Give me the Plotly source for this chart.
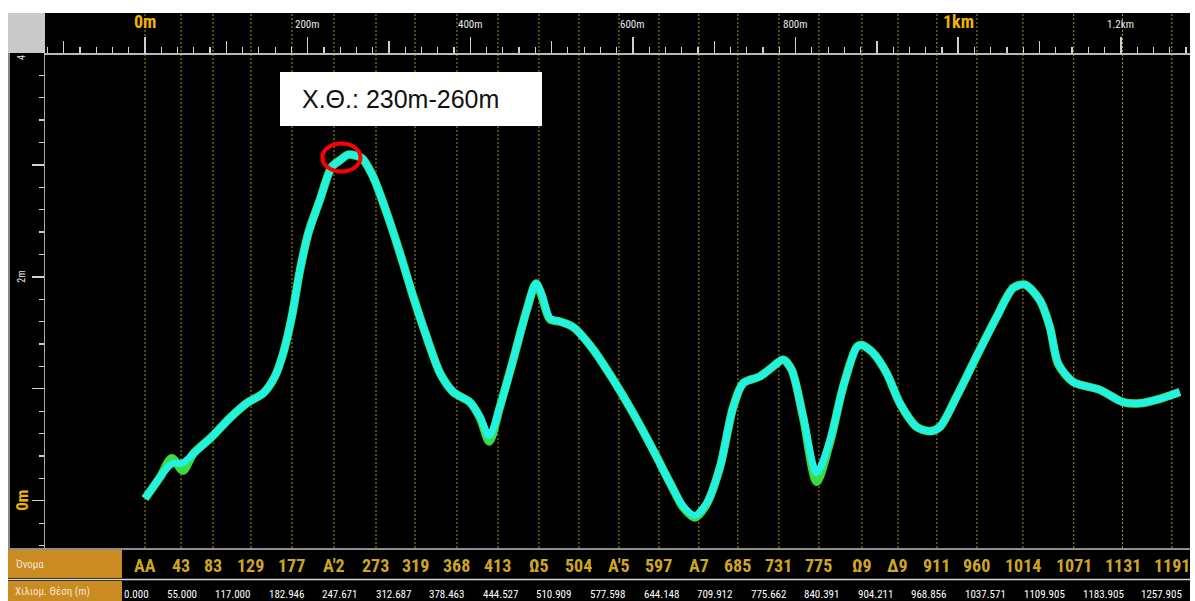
import numpy as np
import plotly.graph_objects as go

# ---- longitudinal profile: chainage (m) and level (m) ----
chainage_m = [0, 18.4, 32.8, 46.7, 59.4, 82.0, 104.5, 125.0, 145.4, 159.8, 170.0, 180.4,
              190.6, 200.8, 215.2, 229.5, 239.8, 250.0, 266.4, 280.7, 297.2, 313.5, 329.9,
              346.4, 362.7, 379.1, 399.6, 411.9, 423.3, 436.5, 452.8, 469.3, 480.7, 487.7,
              498.0, 510.2, 526.6, 551.2, 575.8, 600.4, 625.0, 645.5, 661.8, 676.2, 690.6,
              707.0, 723.4, 735.6, 756.2, 772.5, 784.8, 795.1, 809.4, 825.9, 842.2, 858.6,
              875.0, 881.2, 895.4, 911.9, 928.3, 948.8, 965.2, 977.5, 998.0, 1022.6, 1047.2,
              1067.6, 1082.0, 1100.4, 1112.7, 1122.9, 1141.4, 1174.2, 1202.8, 1223.4, 1248.0,
              1272.5]
level_main = [0.02, 0.21, 0.33, 0.34, 0.42, 0.57, 0.74, 0.87, 0.96, 1.11, 1.32, 1.64,
              2.06, 2.39, 2.69, 2.98, 3.04, 3.09, 3.06, 2.89, 2.57, 2.21, 1.82,
              1.46, 1.14, 0.97, 0.88, 0.75, 0.58, 0.84, 1.26, 1.70, 1.94, 1.85,
              1.63, 1.60, 1.55, 1.35, 1.08, 0.78, 0.45, 0.16, -0.05, -0.13, -0.02,
              0.30, 0.84, 1.05, 1.11, 1.20, 1.26, 1.17, 0.75, 0.25, 0.54, 1.02,
              1.37, 1.39, 1.32, 1.14, 0.87, 0.66, 0.62, 0.66, 0.93, 1.29, 1.64,
              1.90, 1.93, 1.79, 1.55, 1.23, 1.06, 0.99, 0.88, 0.87, 0.91,
              0.97]
level_second = [0.02, 0.21, 0.38, 0.27, 0.42, 0.57, 0.74, 0.87, 0.96, 1.11, 1.32, 1.64,
                2.06, 2.39, 2.69, 2.98, 3.04, 3.09, 3.06, 2.89, 2.57, 2.21, 1.82,
                1.46, 1.14, 0.97, 0.88, 0.74, 0.53, 0.84, 1.26, 1.70, 1.94, 1.83,
                1.62, 1.60, 1.55, 1.35, 1.08, 0.78, 0.45, 0.16, -0.06, -0.15, -0.03,
                0.30, 0.84, 1.05, 1.11, 1.20, 1.26, 1.17, 0.74, 0.17, 0.52, 1.02,
                1.37, 1.39, 1.32, 1.14, 0.87, 0.66, 0.62, 0.66, 0.93, 1.29, 1.64,
                1.90, 1.93, 1.79, 1.55, 1.22, 1.06, 0.99, 0.88, 0.87, 0.91,
                0.97]

# ---- stations ----
station_pos_m = [0, 44.3, 83.6, 130.3, 180.7, 232.4, 284.0, 332.0, 383.6, 434.0, 484.4,
                 533.6, 582.8, 632.0, 681.0, 729.0, 779.5, 828.7, 881.6, 925.9, 973.8,
                 1023.0, 1079.5, 1142.0, 1202.0, 1262.7]
station_names = ["AA", "43", "83", "129", "177", "A'2", "273", "319", "368", "413", "Ω5",
                 "504", "A'5", "597", "A7", "685", "731", "775", "Ω9", "Δ9", "911", "960",
                 "1014", "1071", "1131", "1191"]
chainage_table = ["0.000", "55.000", "117.000", "182.946", "247.671", "312.687", "378.463",
                  "444.527", "510.909", "577.598", "644.148", "709.912", "775.662", "840.391",
                  "904.211", "968.856", "1037.571", "1109.905", "1183.905", "1257.905"]
row_titles = ["Όνομα", "Χιλιομ. Θέση (m)"]

# ---- scales ----
ruler_ticks_m = [0, 200, 400, 600, 800, 1000, 1200]
ruler_labels = ["0m", "200m", "400m", "600m", "800m", "1km", "1.2km"]
level_ticks_m = [0, 2, 4]
level_labels = ["0m", "2m", "4"]

highlight_range_m = [230, 260]
highlight_label = "Χ.Θ.: 230m-260m"

# ---- page geometry (pixels) ----
W, H = 1195, 601
ML, MR, MT, MB = 45, 5, 55, 53
PW, PH = W - ML - MR, H - MT - MB
X_RANGE = [-123, 1285]
Y_RANGE = [-0.422, 3.98]


def px_x(p):
    return (p - ML) / PW


def px_y(p):
    return (H - MB - p) / PH


def level_to_px(v):
    return H - MB - (v - Y_RANGE[0]) / (Y_RANGE[1] - Y_RANGE[0]) * PH


BLACK = "#000000"
GOLD_CELL = "#c98b22"
YELLOW = "#f0b400"
NAME_COLOR = "#cfa622"
STATION_LINE = "#a89810"
TICK = "#d0d0d0"
NARROW = "Liberation Sans Narrow, Arial Narrow, Roboto Condensed, Liberation Sans, sans-serif"

fig = go.Figure()

fig.add_trace(go.Scatter(x=chainage_m, y=level_second, mode="lines",
                         line=dict(color="#38dc48", width=8.5, shape="spline", smoothing=0.8),
                         hoverinfo="skip", showlegend=False))
fig.add_trace(go.Scatter(x=chainage_m, y=level_main, mode="lines",
                         line=dict(color="#22f2e2", width=7, shape="spline", smoothing=0.8),
                         hoverinfo="skip", showlegend=False))
# carrier for the second (tick-only) ruler axis
fig.add_trace(go.Scatter(x=[ruler_ticks_m[0]], y=[None], xaxis="x2", mode="lines",
                         hoverinfo="skip", showlegend=False))

shapes = []


def rect(x0, y0, x1, y1, color, layer="below"):
    shapes.append(dict(type="rect", xref="paper", yref="paper",
                       x0=px_x(x0), x1=px_x(x1), y0=px_y(y1), y1=px_y(y0),
                       fillcolor=color, line=dict(width=0), layer=layer))


def hline(y, x0, x1, color, width):
    shapes.append(dict(type="line", xref="paper", yref="paper",
                       x0=px_x(x0), x1=px_x(x1), y0=px_y(y), y1=px_y(y),
                       line=dict(color=color, width=width), layer="below"))


# dark panels: ruler, level column, plot area, table
rect(8, 13, 1190, 55, BLACK)
rect(8, 55, 45, 548, BLACK)
rect(45, 55, 1190, 548, BLACK)
rect(8, 548, 1190, 601, BLACK)
rect(8, 13, 45, 53, "#c9c9c9")
rect(8, 53, 10, 548, "#8a8a8a")
rect(8, 550, 122, 578, GOLD_CELL)
rect(8, 581, 122, 601, GOLD_CELL)
hline(549, 8, 1190, "#bdbdbd", 1.5)
hline(579.5, 8, 1190, "#d8d8d8", 1.5)

# station verticals through ruler and profile
for s in station_pos_m:
    shapes.append(dict(type="line", xref="x", yref="paper", x0=s, x1=s,
                       y0=0, y1=px_y(13),
                       line=dict(color=STATION_LINE, width=1, dash="2px,2px"),
                       layer="below"))

# highlight ellipse on the profile around the marked range
mid = sum(highlight_range_m) / 2
mid_level = float(np.interp(mid, chainage_m, level_main))
shapes.append(dict(type="circle", xref="x", yref="y",
                   x0=mid - 27, x1=mid + 20, y0=mid_level - 0.125, y1=mid_level + 0.125,
                   line=dict(color="#ff0000", width=4), layer="above"))

# label box
rect(280, 72, 542, 126, "#ffffff", layer="above")

annotations = []

# ruler labels
for v, t in zip(ruler_ticks_m, ruler_labels):
    major = v % 1000 == 0
    annotations.append(dict(
        x=v, xref="x", y=px_y(22 if major else 25), yref="paper",
        text=f"<b>{t}</b>" if major else t, showarrow=False,
        xanchor="center", yanchor="middle",
        font=dict(family=NARROW, size=18 if major else 11,
                  color=YELLOW if major else "#e8e8e8")))

# level labels (rotated); the top one sits just inside the panel edge
for v, t in zip(level_ticks_m, level_labels):
    major = v == 0
    yp = max(level_to_px(v), MT + 3)
    annotations.append(dict(
        x=px_x(22), xref="paper", y=px_y(yp), yref="paper",
        text=f"<b>{t}</b>" if major else t, showarrow=False, textangle=-90,
        xanchor="center", yanchor="middle",
        font=dict(family=NARROW, size=17 if major else 10,
                  color=YELLOW if major else "#e8e8e8")))

# table row titles
for t, yc in zip(row_titles, [564, 591]):
    annotations.append(dict(
        x=px_x(13), xref="paper", y=px_y(yc), yref="paper", text=t, showarrow=False,
        xanchor="left", yanchor="middle",
        font=dict(family=NARROW, size=11, color="#f3e7cf")))

# station names at their positions
for s, n in zip(station_pos_m, station_names):
    annotations.append(dict(
        x=s, xref="x", y=px_y(565), yref="paper", text=f"<b>{n}</b>", showarrow=False,
        xanchor="center", yanchor="middle",
        font=dict(family=NARROW, size=18, color=NAME_COLOR)))

# chainage row, laid out left to right across the table
char_w = 5.35
widths = [len(t) * char_w for t in chainage_table]
left_c, right_c = 136, 1162
span = sum(widths) - (widths[0] + widths[-1]) / 2
gap = (right_c - left_c - span) / (len(widths) - 1)
xc = left_c
for i, t in enumerate(chainage_table):
    if i > 0:
        xc += (widths[i - 1] + widths[i]) / 2 + gap
    annotations.append(dict(
        x=px_x(xc), xref="paper", y=px_y(594), yref="paper", text=t, showarrow=False,
        xanchor="center", yanchor="middle",
        font=dict(family=NARROW, size=11, color="#ffffff")))

# highlight label text
annotations.append(dict(
    x=px_x(300), xref="paper", y=px_y(99), yref="paper", text=highlight_label,
    showarrow=False, xanchor="left", yanchor="middle",
    font=dict(family="Liberation Sans, Arial, sans-serif", size=25, color="#111111")))

fig.update_layout(
    width=W, height=H, autosize=False,
    margin=dict(l=ML, r=MR, t=MT, b=MB, pad=0),
    paper_bgcolor="#ffffff", plot_bgcolor="rgba(0,0,0,0)",
    showlegend=False,
    shapes=shapes, annotations=annotations,
    xaxis=dict(range=X_RANGE, side="top", showgrid=False, zeroline=False,
               showline=True, linecolor="#b8b8b8", linewidth=2,
               ticks="outside", tickmode="linear", tick0=0, dtick=100, ticklen=12,
               tickwidth=1.5, tickcolor=TICK, showticklabels=False,
               minor=dict(tickmode="linear", tick0=0, dtick=20, ticklen=6,
                          tickwidth=1.2, tickcolor=TICK, ticks="outside", showgrid=False),
               fixedrange=True),
    xaxis2=dict(range=X_RANGE, overlaying="x", anchor="y", side="top",
                showgrid=False, zeroline=False, showline=False,
                ticks="outside", tickvals=ruler_ticks_m, ticklen=17, tickwidth=1.5,
                tickcolor=TICK, showticklabels=False, fixedrange=True),
    yaxis=dict(range=Y_RANGE, showgrid=False, zeroline=False,
               showline=True, linecolor="#a8a8a8", linewidth=1.5,
               ticks="outside", tickmode="linear", tick0=0, dtick=1, ticklen=12,
               tickwidth=1.5, tickcolor=TICK, showticklabels=False,
               minor=dict(tickmode="linear", tick0=0, dtick=0.2, ticklen=5,
                          tickwidth=1.2, tickcolor=TICK, ticks="outside", showgrid=False),
               fixedrange=True),
)

fig.write_html("out.html", config={"displayModeBar": False, "staticPlot": True})
